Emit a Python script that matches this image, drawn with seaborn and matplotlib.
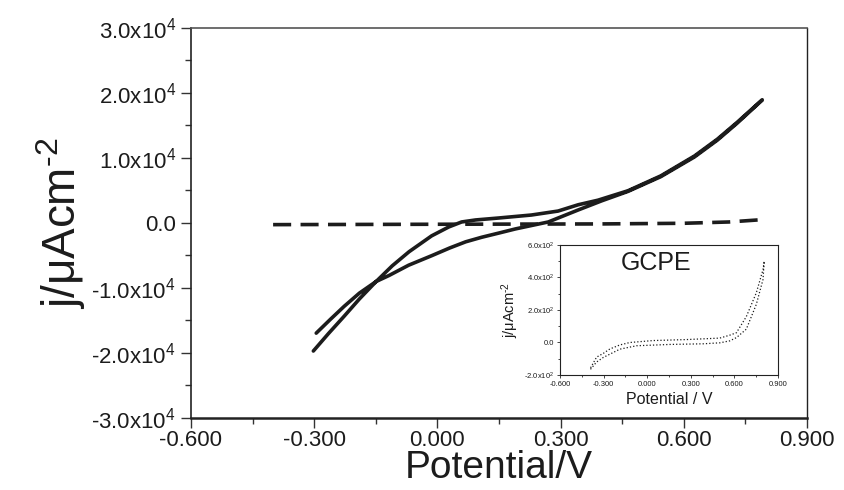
import numpy as np
import pandas as pd
import seaborn as sn
import matplotlib.pyplot as plt

# main CV (modified electrode), forward sweep then reverse sweep
v_fwd = [-0.295, -0.260, -0.227, -0.190, -0.149, -0.118, -0.070, -0.014, 0.030, 0.069, 0.108, 0.150, 0.190, 0.240,
         0.270, 0.343, 0.400, 0.464, 0.544, 0.626, 0.682, 0.730, 0.791]
j_fwd = [-16950, -14800, -12830, -10800, -9000, -8090, -6500, -5040, -3850, -2900, -2200, -1550, -920, -250,
         150, 2000, 3400, 4850, 7120, 10150, 12750, 15350, 18900]
v_rev = [0.791, 0.730, 0.682, 0.626, 0.544, 0.464, 0.391, 0.343, 0.294, 0.229, 0.149, 0.093, 0.059, 0.028,
         -0.014, -0.069, -0.110, -0.149, -0.190, -0.227, -0.265, -0.302]
j_rev = [18950, 15480, 12900, 10300, 7240, 4950, 3500, 2800, 1830, 1220, 760, 460, 150, -610,
         -1985, -4430, -6600, -9000, -11700, -14350, -17000, -19700]

# blank (dashed)
v_blank = [-0.40, 0.00, 0.40, 0.60, 0.71, 0.78]
j_blank = [-260, -200, -150, -50, 150, 460]

# inset GCPE
v_gc_lo = [-0.390, -0.348, -0.302, -0.188, -0.073, 0.156, 0.385, 0.500, 0.568, 0.614, 0.682, 0.751, 0.797, 0.805]
j_gc_lo = [-165, -120, -92, -41, -20, -12, -8, -2, 10, 30, 82, 235, 388, 500]
v_gc_up = [0.805, 0.797, 0.751, 0.682, 0.614, 0.568, 0.499, 0.270, 0.041, -0.119, -0.188, -0.257, -0.302, -0.348, -0.394]
j_gc_up = [500, 449, 306, 159, 60, 45, 27, 18, 12, 0, -15, -40, -67, -90, -163]

x_ticks = [-0.6, -0.3, 0.0, 0.3, 0.6, 0.9]
x_ticklabels = ['-0.600', '-0.300', '0.000', '0.300', '0.600', '0.900']
y_ticks = [-3e4, -2e4, -1e4, 0, 1e4, 2e4, 3e4]
y_ticklabels = ['-3.0x10$^{4}$', '-2.0x10$^{4}$', '-1.0x10$^{4}$', '0.0',
                '1.0x10$^{4}$', '2.0x10$^{4}$', '3.0x10$^{4}$']
yi_ticks = [-200, 0, 200, 400, 600]
yi_ticklabels = ['-2.0x10$^{2}$', '0.0', '2.0x10$^{2}$', '4.0x10$^{2}$', '6.0x10$^{2}$']
ylab = 'j/μAcm$^{\u20102}$'

sn.set_style("ticks")
plt.rcParams['font.family'] = ['Liberation Sans', 'DejaVu Sans']
plt.rcParams['mathtext.fontset'] = 'custom'
plt.rcParams['mathtext.rm'] = 'Liberation Sans'
plt.rcParams['mathtext.it'] = 'Liberation Sans:italic'
plt.rcParams['mathtext.default'] = 'regular'

ink = '#1c1c1c'
cv = pd.DataFrame({'V': v_fwd + v_rev, 'j': j_fwd + j_rev})
blank = pd.DataFrame({'V': v_blank, 'j': j_blank})
gc = pd.DataFrame({'V': v_gc_lo + v_gc_up, 'j': j_gc_lo + j_gc_up})

fig = plt.figure(figsize=(8.45, 4.9), dpi=100)
ax = fig.add_axes([0.226, 0.147, 0.729, 0.796])
sn.lineplot(data=blank, x='V', y='j', sort=False, estimator=None, color=ink,
            lw=2.6, linestyle=(0, (5, 2.6)), ax=ax)
sn.lineplot(data=cv, x='V', y='j', sort=False, estimator=None, color=ink,
            lw=2.6, ax=ax)
ax.set_xlim(-0.6, 0.9)
ax.set_ylim(-3e4, 3e4)
ax.set_xticks(x_ticks, x_ticklabels)
ax.set_yticks(y_ticks, y_ticklabels)
ax.set_xticks(np.arange(-0.45, 0.9, 0.3), minor=True)
ax.set_yticks(np.arange(-2.5e4, 3e4, 1e4), minor=True)
ax.tick_params(which='major', length=7, width=1, color='#333', labelsize=16, labelcolor=ink, pad=2)
ax.tick_params(which='minor', length=4, width=1, color='#333')
ax.tick_params(axis='y', pad=4)
ax.tick_params(top=False, right=False)
ax.set_xlabel('Potential/V', fontsize=28, color=ink, labelpad=-1)
ax.set_ylabel(ylab, fontsize=33, color=ink, labelpad=2)
ax.spines['bottom'].set_linewidth(1.8)
ax.spines['left'].set_linewidth(1.2)
ax.spines['top'].set_linewidth(1.2)
ax.spines['top'].set_color('#555')
ax.spines['right'].set_linewidth(1.0)
for s in ['bottom', 'left', 'right']:
    ax.spines[s].set_color('#222')

# inset
axi = fig.add_axes([0.6627, 0.2347, 0.258, 0.2653])
sn.lineplot(data=gc, x='V', y='j', sort=False, estimator=None, color=ink,
            lw=0.9, linestyle=':', ax=axi)
axi.set_xlim(-0.6, 0.9)
axi.set_ylim(-200, 600)
axi.set_xticks(x_ticks, x_ticklabels)
axi.set_yticks(yi_ticks, yi_ticklabels)
axi.set_xticks(np.arange(-0.45, 0.9, 0.3), minor=True)
axi.set_yticks(np.arange(-100, 600, 200), minor=True)
axi.tick_params(which='major', length=2.5, width=0.6, labelsize=5.5, pad=1.5, labelcolor=ink)
axi.tick_params(which='minor', length=1.5, width=0.6)
axi.set_xlabel('Potential / V', fontsize=11.5, color=ink, labelpad=3)
axi.set_ylabel(ylab, fontsize=10.5, color=ink, labelpad=2)
axi.text(0.44, 0.81, 'GCPE', transform=axi.transAxes, ha='center', va='baseline',
         fontsize=18, color=ink)
for s in axi.spines.values():
    s.set_linewidth(0.8)
    s.set_color('#222')

fig.savefig('out.png', dpi=100)
